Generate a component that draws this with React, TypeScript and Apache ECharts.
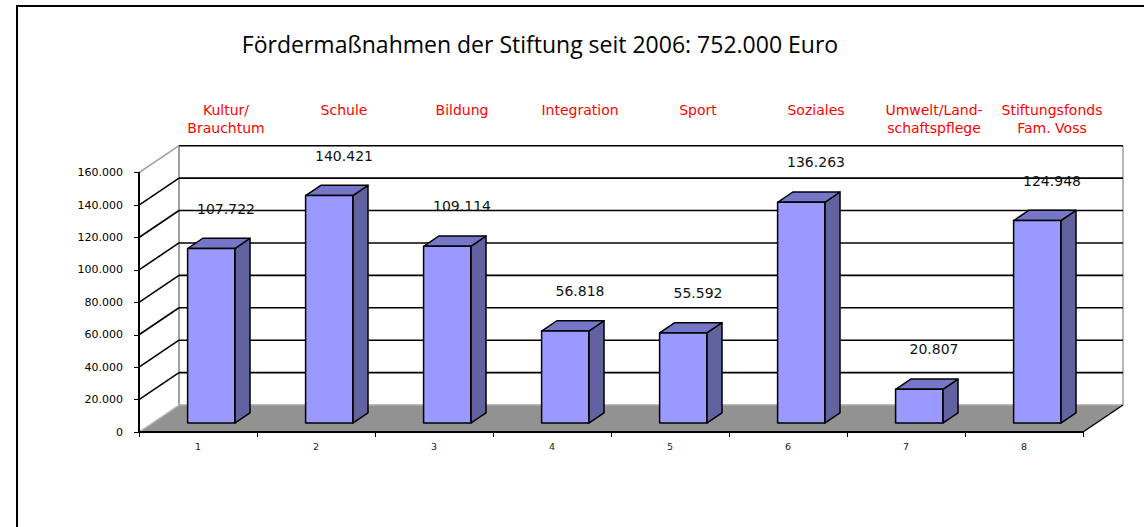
import React, { useEffect, useRef } from 'react';
import * as echarts from 'echarts';

const chartTitle = 'Fördermaßnahmen der Stiftung seit 2006: 752.000 Euro';
const categories = ['1', '2', '3', '4', '5', '6', '7', '8'];
const headers = [
  'Kultur/\nBrauchtum',
  'Schule',
  'Bildung',
  'Integration',
  'Sport',
  'Soziales',
  'Umwelt/Land-\nschaftspflege',
  'Stiftungsfonds\nFam. Voss',
];
const values = [107722, 140421, 109114, 56818, 55592, 136263, 20807, 124948];
const yTicks = [0, 20000, 40000, 60000, 80000, 100000, 120000, 140000, 160000];

// 3D projection (pixels for full depth)
const DX = 40;
const DY = 27;
const D1 = 0.33;
const D2 = 0.71;

const fmt = (v: number) => String(v).replace(/\B(?=(\d{3})+(?!\d))/g, '.');

export default function App() {
  const ref = useRef<HTMLDivElement>(null);
  useEffect(() => {
    if (!ref.current) return;
    const chart = echarts.init(ref.current, null, { renderer: 'svg' });
    const P = (x: number, y: number, d: number) => [x + d * DX, y - d * DY];

    const option: any = {
      animation: false,
      backgroundColor: '#ffffff',
      graphic: [
        {
          type: 'rect',
          shape: { x: 17, y: 6, width: 1200, height: 700 },
          style: { fill: 'none', stroke: '#000', lineWidth: 2 },
          silent: true,
        },
        {
          type: 'text',
          x: 540,
          y: 44,
          style: {
            text: chartTitle,
            fontFamily: 'Open Sans',
            fontSize: 23,
            fill: '#000',
            align: 'center',
            verticalAlign: 'middle',
          },
        },
      ],
      grid: { left: 139, right: 61, top: 172.7, bottom: 95, containLabel: false },
      xAxis: {
        type: 'category',
        data: categories,
        z: 5,
        axisLine: { show: true, lineStyle: { color: '#000', width: 2 } },
        axisTick: { show: true, interval: 0, length: 5, lineStyle: { color: '#000', width: 1 } },
        axisLabel: { fontFamily: 'DejaVu Sans', fontSize: 9.5, color: '#222', margin: 9 },
        splitLine: { show: false },
      },
      yAxis: {
        type: 'value',
        min: 0,
        max: 160000,
        interval: 20000,
        z: 5,
        axisLine: { show: true, lineStyle: { color: '#000', width: 2 } },
        axisTick: { show: true, length: 5, lineStyle: { color: '#000', width: 1 } },
        axisLabel: {
          formatter: (v: number) => fmt(v),
          fontFamily: 'DejaVu Sans',
          fontSize: 11,
          color: '#000',
          margin: 16,
        },
        splitLine: { show: false },
      },
      series: [
        {
          type: 'custom',
          name: 'walls',
          silent: true,
          data: yTicks.map((v) => [0, v]),
          renderItem: (params: any, api: any) => {
            const cs = params.coordSys;
            const v = api.value(1);
            const left = cs.x;
            const right = cs.x + cs.width;
            const y = api.coord([0, v])[1];
            const children: any[] = [];
            if (v === 0) {
              const ytop = api.coord([0, yTicks[yTicks.length - 1]])[1];
              children.push({
                type: 'polygon',
                shape: { points: [P(left, y, 0), P(right, y, 0), P(right, y, 1), P(left, y, 1)] },
                style: { fill: '#929292', stroke: 'none' },
              });
              const bl = P(left, y, 1);
              const br = P(right, y, 1);
              const tl = P(left, ytop, 1);
              const tr = P(right, ytop, 1);
              children.push({
                type: 'line',
                shape: { x1: bl[0], y1: bl[1], x2: br[0], y2: br[1] },
                style: { stroke: '#a8a8a8', lineWidth: 1.5 },
              });
              children.push({
                type: 'line',
                shape: { x1: bl[0], y1: bl[1], x2: tl[0], y2: tl[1] },
                style: { stroke: '#a0a0a0', lineWidth: 2 },
              });
              children.push({
                type: 'line',
                shape: { x1: br[0], y1: br[1], x2: tr[0], y2: tr[1] },
                style: { stroke: '#b8b8b8', lineWidth: 2 },
              });
              children.push({
                type: 'line',
                shape: { x1: left, y1: y, x2: bl[0], y2: bl[1] },
                style: { stroke: '#c0c0c0', lineWidth: 1.5 },
              });
              children.push({
                type: 'line',
                shape: { x1: right, y1: y, x2: br[0], y2: br[1] },
                style: { stroke: '#000', lineWidth: 1.5 },
              });
            } else {
              const isTop = v === yTicks[yTicks.length - 1];
              const a = P(left, y, 1);
              const b = P(right, y, 1);
              children.push({
                type: 'line',
                shape: { x1: a[0], y1: a[1], x2: b[0], y2: b[1] },
                style: { stroke: '#000', lineWidth: 1.6 },
              });
              children.push({
                type: 'line',
                shape: { x1: left, y1: y, x2: a[0], y2: a[1] },
                style: { stroke: isTop ? '#a0a0a0' : '#000', lineWidth: 1.6 },
              });
            }
            return { type: 'group', children };
          },
        },
        {
          type: 'custom',
          name: 'bars',
          data: values.map((v, i) => [i, v]),
          renderItem: (params: any, api: any) => {
            const cs = params.coordSys;
            const i = api.value(0);
            const v = api.value(1);
            const top = api.coord([i, v]);
            const bot = api.coord([i, 0]);
            const band = api.size([1, 0])[0];
            const w = band * 0.4;
            const xl = top[0] - w / 2;
            const xr = top[0] + w / 2;
            const edge = { stroke: '#000', lineWidth: 1.5, lineJoin: 'round' };
            const side = [P(xr, top[1], D1), P(xr, top[1], D2), P(xr, bot[1], D2), P(xr, bot[1], D1)];
            const cap = [P(xl, top[1], D1), P(xr, top[1], D1), P(xr, top[1], D2), P(xl, top[1], D2)];
            const front = [P(xl, top[1], D1), P(xr, top[1], D1), P(xr, bot[1], D1), P(xl, bot[1], D1)];
            const ft = P(top[0], top[1], D1);
            return {
              type: 'group',
              children: [
                { type: 'polygon', shape: { points: side }, style: { fill: '#6262A0', ...edge } },
                { type: 'polygon', shape: { points: cap }, style: { fill: '#7676C8', ...edge } },
                { type: 'polygon', shape: { points: front }, style: { fill: '#9999FF', ...edge } },
                {
                  type: 'text',
                  x: top[0] + 28,
                  y: ft[1] - 40,
                  style: {
                    text: fmt(v),
                    fontFamily: 'DejaVu Sans',
                    fontSize: 14,
                    fill: '#111',
                    align: 'center',
                    verticalAlign: 'middle',
                  },
                },
                {
                  type: 'text',
                  x: top[0] + 28,
                  y: cs.y - 72,
                  style: {
                    text: headers[i],
                    fontFamily: 'DejaVu Sans',
                    fontSize: 14,
                    lineHeight: 18,
                    fill: '#ff0000',
                    align: 'center',
                    verticalAlign: 'top',
                  },
                },
              ],
            };
          },
        },
      ],
    };
    chart.setOption(option);
    return () => chart.dispose();
  }, []);
  return (
    <div
      ref={ref}
      style={{ position: 'absolute', left: 0, top: 0, width: 1144, height: 527 }}
    />
  );
}
